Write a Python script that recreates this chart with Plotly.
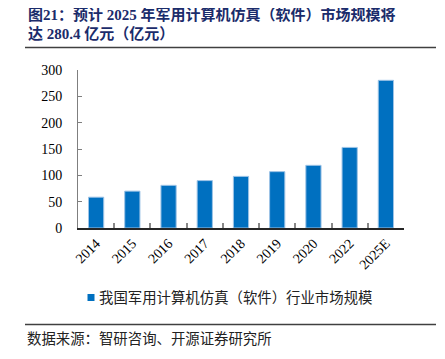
import plotly.graph_objects as go

categories = ["2014", "2015", "2016", "2017", "2018", "2019", "2020", "2022", "2025E"]
values = [58.5, 70.0, 81.0, 90.0, 98.0, 107.0, 119.0, 153.0, 280.4]
y_ticks = [0, 50, 100, 150, 200, 250, 300]
series_name = "我国军用计算机仿真（软件）行业市场规模"
title_line1 = "图21：预计 2025 年军用计算机仿真（软件）市场规模将"
title_line2 = "达 280.4 亿元（亿元）"
source_text = "数据来源：智研咨询、开源证券研究所"

OFF = 8  # page body margin
W, H = 445 - OFF, 359 - OFF
# plot area in page coordinates: x 78..404, y 70..228
L = 78 - OFF
R = (445 - OFF) - (404 - OFF)
T = 70 - OFF
B = (359 - OFF) - (228 - OFF)
PW, PH = W - L - R, H - T - B

def px(x):
    return (x - OFF - L) / PW

def py(y):
    return (H - B - (y - OFF)) / PH

serif = "Liberation Serif, Noto Sans CJK SC"

fig = go.Figure()
fig.add_trace(go.Bar(
    x=categories, y=values, name=series_name,
    marker=dict(color="#0070C0", line=dict(color="#9DC3E6", width=1)),
    width=0.42, showlegend=False,
))

fig.update_layout(
    width=W, height=H,
    margin=dict(l=L, r=R, t=T, b=B, pad=0),
    plot_bgcolor="white", paper_bgcolor="white",
    font=dict(family=serif, size=13, color="#000000"),
    xaxis=dict(
        type="category", tickangle=-45, ticks="inside", tickson="boundaries",
        ticklen=5, tickcolor="#888888", tickwidth=1.5,
        showline=True, linecolor="#262626", linewidth=1.5,
        showgrid=False, tickfont=dict(family=serif, size=14, color="#000"),
        range=[-0.5, len(categories) - 0.5],
    ),
    yaxis=dict(
        range=[0, 300], tickvals=y_ticks, ticks="inside", ticklen=4,
        tickcolor="#7f7f7f", tickwidth=1,
        showline=True, linecolor="#7f7f7f", linewidth=1,
        showgrid=False, zeroline=False,
        tickfont=dict(family=serif, size=14, color="#000"),
        ticklabelstandoff=12,
    ),
    annotations=[
        dict(text="<b>" + title_line1 + "</b>", x=px(26), y=py(14), xref="paper", yref="paper",
             xanchor="left", yanchor="middle", showarrow=False,
             font=dict(family=serif, size=15, color="#1B2C6B")),
        dict(text="<b>" + title_line2 + "</b>", x=px(26), y=py(34), xref="paper", yref="paper",
             xanchor="left", yanchor="middle", showarrow=False,
             font=dict(family=serif, size=15, color="#1B2C6B")),
        dict(text=series_name, x=px(97), y=py(297), xref="paper", yref="paper",
             xanchor="left", yanchor="middle", showarrow=False,
             font=dict(family=serif, size=14.4, color="#222222")),
        dict(text=source_text, x=px(25), y=py(339), xref="paper", yref="paper",
             xanchor="left", yanchor="middle", showarrow=False,
             font=dict(family=serif, size=14.4, color="#222222")),
    ],
    shapes=[
        dict(type="line", xref="paper", yref="paper", x0=px(25), x1=px(436), y0=py(47.5), y1=py(47.5),
             line=dict(color="#404040", width=1.5)),
        dict(type="line", xref="paper", yref="paper", x0=px(25), x1=px(436), y0=py(324.5), y1=py(324.5),
             line=dict(color="#404040", width=1.5)),
        dict(type="rect", xref="paper", yref="paper", x0=px(87.5), x1=px(94.5), y0=py(294), y1=py(301),
             fillcolor="#0070C0", line=dict(width=0)),
    ],
)

fig.write_html("out.html")
